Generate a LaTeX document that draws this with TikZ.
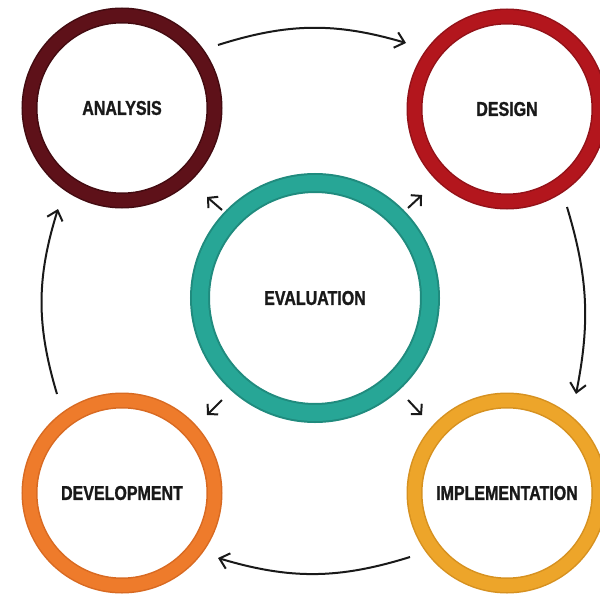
\documentclass[tikz,border=0pt]{standalone}
\usepackage{fontspec}
\setmainfont{Liberation Sans}[FakeStretch=0.8, BoldFeatures={FakeBold=1.2}]
\usetikzlibrary{arrows.meta}
\definecolor{anaMain}{HTML}{5E1119}
\definecolor{anaDark}{HTML}{430B11}
\definecolor{desMain}{HTML}{B3161D}
\definecolor{desDark}{HTML}{931219}
\definecolor{evaMain}{HTML}{27A696}
\definecolor{evaDark}{HTML}{208B7E}
\definecolor{devMain}{HTML}{EE7B2B}
\definecolor{devDark}{HTML}{D86A22}
\definecolor{impMain}{HTML}{EDA52A}
\definecolor{impDark}{HTML}{D69120}
\tikzset{
  ring/.style={circle, inner sep=0pt, line width=1.5pt, double distance=13pt, minimum size=185pt,
    text=black!90, font=\bfseries\fontsize{20}{20}\selectfont},
  bigring/.style={ring, line width=2pt, double distance=16pt, minimum size=230pt},
  flow/.style={-{Straight Barb[length=9pt,width=16pt]}, line width=2pt, black!90},
  hint/.style={-{Straight Barb[length=7pt,width=15pt]}, line width=2pt, black!90}
}
\begin{document}
\begin{tikzpicture}[x=1pt, y=1pt]
\useasboundingbox (0,0) rectangle (600,-594);
\node (A) at (122,-108) [ring, draw=anaDark, double=anaMain] {ANALYSIS};
\node (D) at (507,-109) [ring, draw=desDark, double=desMain] {DESIGN};
\node (E) at (315,-298) [bigring, draw=evaDark, double=evaMain] {EVALUATION};
\node (V) at (122,-493) [ring, draw=devDark, double=devMain] {DEVELOPMENT};
\node (I) at (507,-493) [ring, draw=impDark, double=impMain] {IMPLEMENTATION};

\coordinate (A1) at (218,-45);
\coordinate (D0) at (406,-43);
\coordinate (D1) at (567,-207);
\coordinate (I0) at (576,-394);
\coordinate (I1) at (410,-557);
\coordinate (V0) at (218,-558);
\coordinate (V1) at (57,-394);
\coordinate (A0) at (58,-209);

\draw[flow] (A1) to[bend left=17] (D0);
\draw[flow] (D1) to[bend left=14] (I0);
\draw[flow] (I1) to[bend left=17] (V0);
\draw[flow] (V1) to[bend left=17] (A0);

\coordinate (E1) at (222,-210);
\coordinate (E2) at (408,-208);
\coordinate (E3) at (222,-400);
\coordinate (E4) at (408,-400);
\coordinate (A2) at (207,-197);
\coordinate (D2) at (422,-195);
\coordinate (V2) at (207,-415);
\coordinate (I2) at (422,-415);

\draw[hint] (E1) to (A2);
\draw[hint] (E2) to (D2);
\draw[hint] (E3) to (V2);
\draw[hint] (E4) to (I2);
\end{tikzpicture}
\end{document}
